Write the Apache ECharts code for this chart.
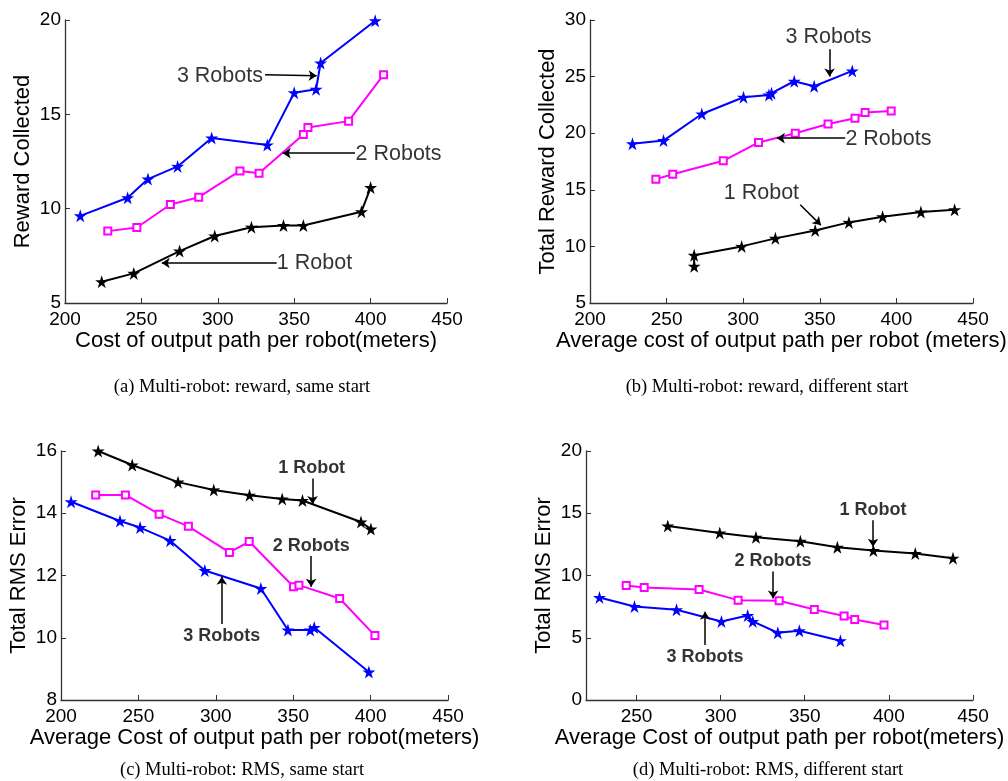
<!DOCTYPE html>
<html>
<head>
<meta charset="utf-8">
<script src="https://cdn.jsdelivr.net/npm/echarts@6/dist/echarts.min.js"></script>
<style>
html,body{margin:0;padding:0;background:#fff;}
#chart{width:1008px;height:781px;}
</style>
</head>
<body>
<div id="chart"></div>
<script>
// ---------- Data ----------
// (a) reward, same start : [cost, reward]
const a_1robot  = [[224,6.13],[245,6.57],[275,7.75],[298,8.55],[322,9.02],[343,9.11],[356,9.11],[394,9.84],[400,11.12]];
const a_2robots = [[228,8.81],[247,9.0],[269,10.22],[287.5,10.61],[314.5,12.0],[327,11.88],[356,13.93],[359,14.3],[385.6,14.64],[408.5,17.1]];
const a_3robots = [[210,9.62],[241,10.58],[254.3,11.57],[273.7,12.24],[296,13.75],[332.4,13.37],[350,16.14],[364.3,16.33],[367.3,17.72],[403,19.96]];
// (b) reward, different start
const b_1robot  = [[268,8.25],[268,9.21],[299,10.0],[321,10.71],[347,11.41],[369,12.12],[391,12.62],[416,13.03],[438,13.24]];
const b_2robots = [[243,15.94],[254,16.38],[287,17.56],[310,19.18],[334,20.0],[355.4,20.82],[373,21.32],[379.6,21.82],[396.6,21.97]];
const b_3robots = [[227.7,19.06],[248,19.35],[273,21.7],[300.2,23.18],[316.8,23.38],[318.5,23.53],[333.3,24.59],[346.3,24.15],[371.2,25.5]];
// (c) RMS, same start
const c_1robot  = [[224,16.0],[246,15.55],[275.6,15.0],[298.7,14.75],[321.8,14.58],[342.9,14.46],[356,14.41],[393.8,13.72],[400.2,13.49]];
const c_2robots = [[222.4,14.59],[241.6,14.59],[263.4,13.97],[282.3,13.58],[308.8,12.74],[321.6,13.09],[350.2,11.64],[353.7,11.69],[380,11.26],[402.8,10.07]];
const c_3robots = [[206.5,14.37],[238.1,13.75],[251.1,13.54],[270.5,13.12],[292.9,12.16],[329.1,11.58],[346.6,10.25],[361,10.25],[363.6,10.33],[398.9,8.9]];
// (d) RMS, different start
const d_1robot  = [[268.6,13.98],[299.5,13.42],[321,13.07],[347.4,12.75],[369.4,12.27],[390.8,12.0],[415.7,11.76],[438.1,11.39]];
const d_2robots = [[243.9,9.2],[254.6,9.04],[287.2,8.88],[310.4,8.02],[334.8,7.97],[355.7,7.27],[373.4,6.74],[379.7,6.47],[397.1,6.02]];
const d_3robots = [[228,8.24],[248.8,7.51],[273.8,7.25],[300.5,6.31],[316.1,6.79],[319.1,6.31],[334,5.4],[346.8,5.56],[371.2,4.76]];

// tick values
const xTicksAB = [200,250,300,350,400,450];
const xTicksD  = [250,300,350,400,450];

// annotations: label text positions [x, y, text] and arrows [[x1,y1],[x2,y2]]
const a_labels = [[301.4,17.04,'3 Robots'],[418.3,12.91,'2 Robots'],[363.3,7.14,'1 Robot']];
const a_arrows = [[[330.9,17.1],[364.7,17.04]],[[389.8,12.94],[342.5,12.94]],[[338.5,7.12],[263.3,7.12]]];
const b_labels = [[355.7,28.5,'3 Robots'],[394.8,19.5,'2 Robots'],[311.9,14.73,'1 Robot']];
const b_arrows = [[[356.4,27.41],[356.4,25.0]],[[366.6,19.56],[322,19.56]],[[337.2,13.68],[350.7,11.88]]];
const c_labels = [[361.9,15.45,'1 Robot'],[361.6,12.95,'2 Robots'],[303.8,10.06,'3 Robots']];
const c_arrows = [[[362.5,15.12],[362.5,14.3]],[[361.6,12.63],[361.6,11.64]],[[303.9,10.44],[303.9,11.96]]];
const d_labels = [[390.6,15.27,'1 Robot'],[331.1,11.18,'2 Robots'],[290.7,3.48,'3 Robots']];
const d_arrows = [[[390.6,14.44],[390.6,12.3]],[[331.2,10.32],[331.2,8.16]],[[290.8,4.41],[290.8,7.09]]];

const captions = ['(a) Multi-robot: reward, same start','(b) Multi-robot: reward, different start',
                  '(c) Multi-robot: RMS, same start','(d) Multi-robot: RMS, different start'];

// ---------- Styles ----------
const STAR = 'path://M50,0L61.17,34.63L97.55,34.55L68.07,55.87L79.39,90.45L50,69L20.61,90.45L31.93,55.87L2.45,34.55L38.83,34.63Z';
const SANS = 'Liberation Sans, Arial, Helvetica, sans-serif';
const AXC = '#333';

function xAxis(idx, min, max, name, ticks){
  return {
    type:'value', gridIndex:idx, min:min, max:max,
    name:name, nameLocation:'middle', nameGap:24,
    nameTextStyle:{fontFamily:SANS, fontSize:22, color:'#000'},
    axisLine:{show:true, lineStyle:{color:AXC, width:1.3}},
    axisTick:{show:true, inside:true, length:5, lineStyle:{color:AXC}, customValues:ticks},
    axisLabel:{fontFamily:SANS, fontSize:19, color:'#000', margin:7, customValues:ticks},
    splitLine:{show:false}
  };
}
function yAxis(idx, min, max, interval, name){
  return {
    type:'value', gridIndex:idx, min:min, max:max, interval:interval,
    name:name, nameLocation:'middle', nameGap:31,
    nameTextStyle:{fontFamily:SANS, fontSize:22, color:'#000'},
    axisLine:{show:true, lineStyle:{color:AXC, width:1.3}},
    axisTick:{show:true, inside:true, length:5, lineStyle:{color:AXC}},
    axisLabel:{fontFamily:SANS, fontSize:19, color:'#000', margin:4},
    splitLine:{show:false}
  };
}
function lineSeries(idx, data, color, star){
  return {
    type:'line', xAxisIndex:idx, yAxisIndex:idx, data:data,
    symbol: star ? STAR : 'emptyRect', symbolSize: star ? 13 : 7,
    showAllSymbol:true,
    lineStyle:{color:color, width:2},
    itemStyle:{color:color, borderColor:color, borderWidth: star?0:1.5},
    silent:true, animation:false, z:3
  };
}
function arrowSeries(idx, arrows){
  return {
    type:'lines', coordinateSystem:'cartesian2d', xAxisIndex:idx, yAxisIndex:idx,
    data: arrows.map(a=>({coords:a})),
    symbol:['none','arrow'], symbolSize:8,
    lineStyle:{color:'#000', width:1.5, opacity:1},
    silent:true, animation:false, z:4
  };
}
function labelSeries(idx, labels, bold, size){
  return {
    type:'scatter', xAxisIndex:idx, yAxisIndex:idx,
    data: labels.map(l=>({value:[l[0],l[1]], name:l[2]})),
    symbolSize:0, itemStyle:{color:'transparent'},
    label:{show:true, position:'inside', formatter:p=>p.name, color:'#000',
           fontFamily:SANS, fontSize:size, fontWeight: bold?'bold':'normal'},
    silent:true, animation:false, z:5
  };
}

const BLUE='#0000ff', MAG='#ff00ff', BLK='#000000';

const option = {
  backgroundColor:'#fff',
  animation:false,
  grid:[
    {left:65, top:20, width:382, height:283, containLabel:false, outerBoundsMode:'none'},
    {left:590, top:20, width:383, height:283, containLabel:false, outerBoundsMode:'none'},
    {left:61, top:451, width:387, height:249, containLabel:false, outerBoundsMode:'none'},
    {left:586, top:451, width:387, height:249, containLabel:false, outerBoundsMode:'none'}
  ],
  title:[
    {text:captions[0], left:242, top:378},
    {text:captions[1], left:767, top:378},
    {text:captions[2], left:242, top:761},
    {text:captions[3], left:768, top:761}
  ].map(t=>Object.assign(t,{textAlign:'center', padding:0, textStyle:{fontFamily:'Liberation Serif, Times New Roman, serif', fontSize:18.5, fontWeight:'normal', color:'#000'}})),
  xAxis:[
    xAxis(0,200,450,'Cost of output path per robot(meters)',xTicksAB),
    xAxis(1,200,450,'Average cost of output path per robot (meters)',xTicksAB),
    xAxis(2,200,450,'Average Cost of output path per robot(meters)',xTicksAB),
    xAxis(3,220,450,'Average Cost of output path per robot(meters)',xTicksD)
  ],
  yAxis:[
    yAxis(0,5,20,5,'Reward Collected'),
    yAxis(1,5,30,5,'Total Reward Collected'),
    yAxis(2,8,16,2,'Total RMS Error'),
    yAxis(3,0,20,5,'Total RMS Error')
  ],
  series:[
    lineSeries(0,a_1robot,BLK,true), lineSeries(0,a_2robots,MAG,false), lineSeries(0,a_3robots,BLUE,true),
    lineSeries(1,b_1robot,BLK,true), lineSeries(1,b_2robots,MAG,false), lineSeries(1,b_3robots,BLUE,true),
    lineSeries(2,c_1robot,BLK,true), lineSeries(2,c_2robots,MAG,false), lineSeries(2,c_3robots,BLUE,true),
    lineSeries(3,d_1robot,BLK,true), lineSeries(3,d_2robots,MAG,false), lineSeries(3,d_3robots,BLUE,true),
    arrowSeries(0,a_arrows), arrowSeries(1,b_arrows), arrowSeries(2,c_arrows), arrowSeries(3,d_arrows),
    labelSeries(0,a_labels,false,21.5), labelSeries(1,b_labels,false,21.5),
    labelSeries(2,c_labels,true,18), labelSeries(3,d_labels,true,18)
  ]
};

const chart = echarts.init(document.getElementById('chart'), null, {renderer:'canvas'});
chart.setOption(option);
</script>
</body>
</html>
